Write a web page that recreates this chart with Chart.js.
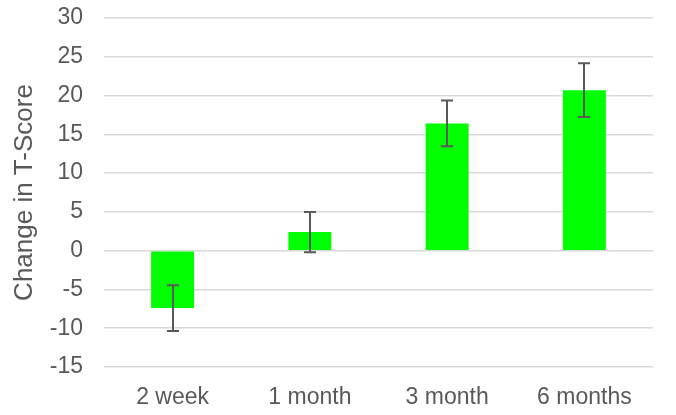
<!DOCTYPE html>
<html>
<head>
<meta charset="utf-8">
<script src="https://cdn.jsdelivr.net/npm/chart.js@4/dist/chart.umd.min.js"></script>
<style>
  html, body { margin: 0; padding: 0; background: #ffffff; }
  #wrap { width: 676px; height: 415px; position: relative; }
</style>
</head>
<body>
<div id="wrap"><canvas id="chart" width="676" height="415"></canvas></div>
<script>
// Time points after treatment
const categories = ['2 week', '1 month', '3 month', '6 months'];
// Mean change in T-score at each time point
const meanChange = [-7.4, 2.4, 16.4, 20.7];
// Error bar half-length (plus and minus) for each mean
const errorAmount = [2.95, 2.6, 2.95, 3.45];
// Value axis range and step
const yMin = -15;
const yMax = 30;
const yStep = 5;

const textColor = '#595959';
const fontFamily = '"Liberation Sans", Arial, Helvetica, sans-serif';

// Draws a vertical error bar with end caps over each bar
const errorBarPlugin = {
  id: 'errorBars',
  afterDatasetsDraw(chart) {
    const meta = chart.getDatasetMeta(0);
    const yScale = chart.scales.y;
    const ctx = chart.ctx;
    ctx.save();
    ctx.strokeStyle = '#595959';
    ctx.lineWidth = 2;
    meta.data.forEach((bar, i) => {
      const x = Math.round(bar.x);
      const top = yScale.getPixelForValue(meanChange[i] + errorAmount[i]);
      const bottom = yScale.getPixelForValue(meanChange[i] - errorAmount[i]);
      const cap = 6;
      ctx.beginPath();
      ctx.moveTo(x, top);
      ctx.lineTo(x, bottom);
      ctx.moveTo(x - cap, top);
      ctx.lineTo(x + cap, top);
      ctx.moveTo(x - cap, bottom);
      ctx.lineTo(x + cap, bottom);
      ctx.stroke();
    });
    ctx.restore();
  }
};

new Chart(document.getElementById('chart'), {
  type: 'bar',
  data: {
    labels: categories,
    datasets: [{
      data: meanChange,
      backgroundColor: '#00ff00',
      borderWidth: 0,
      categoryPercentage: 1.0,
      barPercentage: 0.313
    }]
  },
  options: {
    responsive: false,
    animation: false,
    devicePixelRatio: 1,
    layout: { padding: { top: 18, right: 23, bottom: 0, left: 0 } },
    plugins: {
      legend: { display: false },
      tooltip: { enabled: false }
    },
    scales: {
      x: {
        grid: { display: false },
        border: { display: false },
        ticks: {
          color: textColor,
          padding: 9,
          font: { family: fontFamily, size: 23 },
          maxRotation: 0
        },
        afterFit(scale) { scale.height = 48; }
      },
      y: {
        min: yMin,
        max: yMax,
        grid: { color: '#d9d9d9', lineWidth: 1.5, drawTicks: false },
        border: { display: false },
        ticks: {
          stepSize: yStep,
          color: textColor,
          padding: 21,
          font: { family: fontFamily, size: 23 }
        },
        title: {
          display: true,
          text: 'Change in T-Score',
          color: textColor,
          font: { family: fontFamily, size: 26 },
          padding: { top: 9, bottom: 0 }
        },
        afterFit(scale) {
          scale.width = 104;
          scale.paddingTop = 0;
          scale.paddingBottom = 0;
        }
      }
    }
  },
  plugins: [errorBarPlugin]
});
</script>
</body>
</html>
